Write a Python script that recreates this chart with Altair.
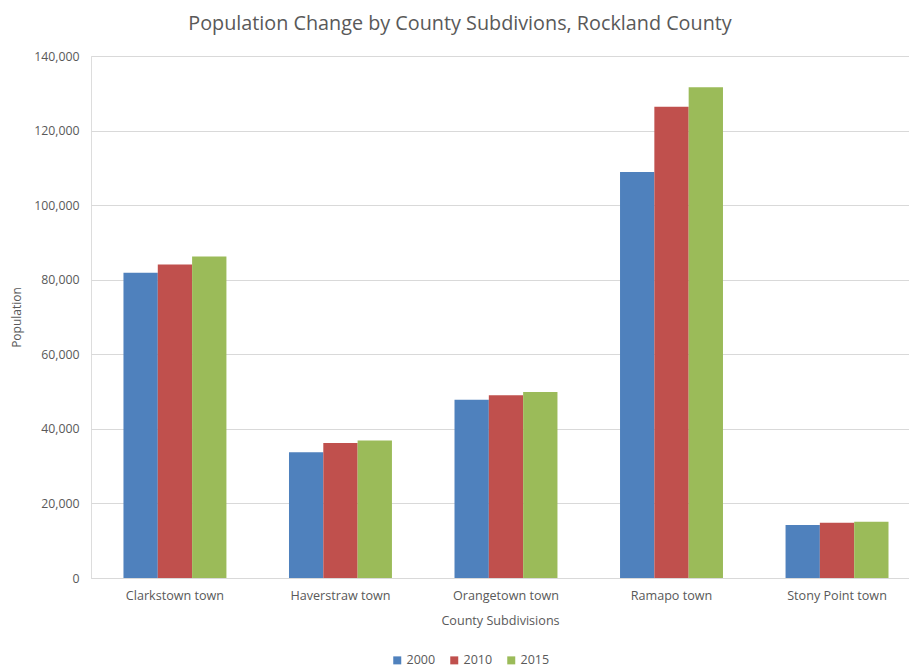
import altair as alt
import pandas as pd

# Population of Rockland County subdivisions, by census year
subdivisions = ["Clarkstown town", "Haverstraw town", "Orangetown town", "Ramapo town", "Stony Point town"]
years = ["2000", "2010", "2015"]
pop_2000 = [81900, 33700, 47800, 108900, 14200]
pop_2010 = [84100, 36200, 49000, 126400, 14800]
pop_2015 = [86200, 36900, 49900, 131600, 15100]
y_ticks = [0, 20000, 40000, 60000, 80000, 100000, 120000, 140000]
colors = ["#4F81BD", "#C0504D", "#9BBB59"]

rows = []
for yr, vals in zip(years, [pop_2000, pop_2010, pop_2015]):
    for name, v in zip(subdivisions, vals):
        rows.append({"Subdivision": name, "Year": yr, "Population": v})
df = pd.DataFrame(rows)

FONT = "Open Sans"
GREY = "#595959"

chart = (
    alt.Chart(df)
    .mark_bar()
    .encode(
        x=alt.X(
            "Subdivision:N",
            sort=subdivisions,
            scale=alt.Scale(paddingInner=0.378, paddingOuter=0.16, align=0.613),
            axis=alt.Axis(
                title="County Subdivisions",
                labelAngle=0,
                labelFontSize=12.6,
                labelColor=GREY,
                labelPadding=11,
                titleFontSize=12.6,
                titleFontWeight="normal",
                titleColor=GREY,
                titlePadding=13,
                ticks=False,
                domainColor="#D9D9D9",
                labelFont=FONT,
                titleFont=FONT,
            ),
        ),
        xOffset=alt.XOffset("Year:N", sort=years, scale=alt.Scale(paddingInner=0, paddingOuter=0)),
        y=alt.Y(
            "Population:Q",
            scale=alt.Scale(domain=[0, 140000], nice=False),
            axis=alt.Axis(
                title="Population",
                values=y_ticks,
                format=",.0f",
                labelFontSize=12.3,
                labelColor=GREY,
                labelPadding=12,
                titleFontSize=12,
                titleFontWeight="normal",
                titleColor=GREY,
                titlePadding=10,
                ticks=False,
                domain=False,
                gridColor="#D9D9D9",
                labelFont=FONT,
                titleFont=FONT,
            ),
        ),
        color=alt.Color(
            "Year:N",
            sort=years,
            scale=alt.Scale(domain=years, range=colors),
            legend=alt.Legend(
                title=None,
                orient="none",
                direction="horizontal",
                legendX=300,
                legendY=598,
                symbolType="square",
                symbolSize=64,
                symbolStrokeWidth=0,
                labelFontSize=12.5,
                labelColor=GREY,
                labelFont=FONT,
                labelOffset=3,
                columnPadding=12,
            ),
        ),
    )
    .properties(
        width=818,
        height=522,
        padding={"left": 91, "top": 56, "right": 0, "bottom": 90},
        autosize=alt.AutoSizeParams(type="none"),
        title=alt.TitleParams(
            "Population Change by County Subdivions, Rockland County",
            fontSize=19.8,
            font=FONT,
            fontWeight="normal",
            color=GREY,
            anchor="middle",
            dx=-40,
            offset=16,
        ),
    )
    .configure_view(stroke=None)
    .configure(background="white")
)

chart.save("out.html", embed_options={"renderer": "svg", "actions": False})
